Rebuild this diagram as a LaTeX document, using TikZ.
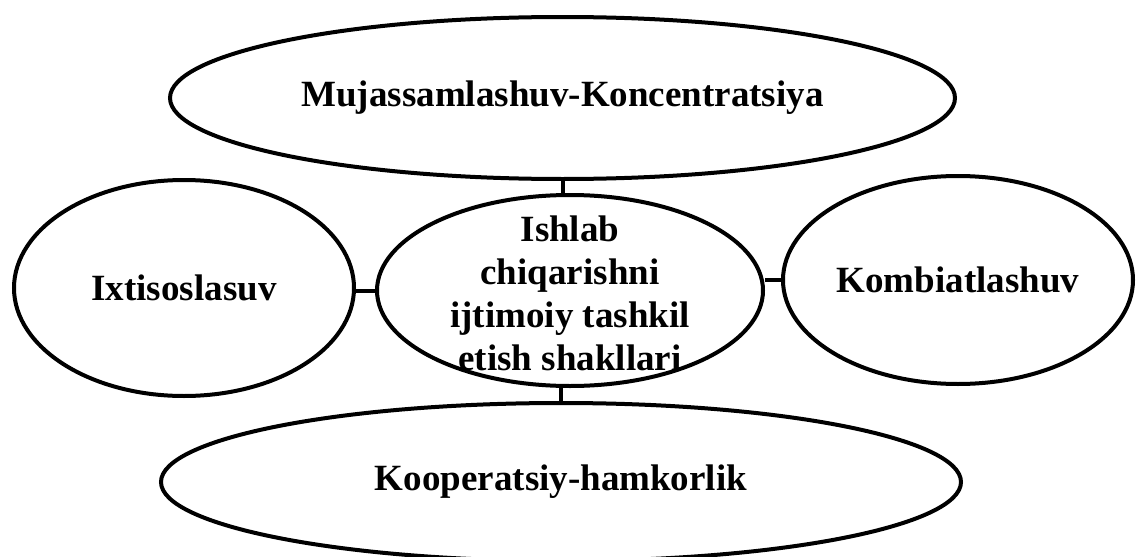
\documentclass[tikz,border=0pt]{standalone}
\usepackage{fontspec}
\setmainfont{Liberation Serif}
\usetikzlibrary{shapes.geometric}

\tikzset{
	words/.style = {
		inner sep = 0pt,
		font = \fontsize{18.5}{21.5}\selectfont\bfseries,
		align = center,
	},
	form/.style = {
		words,
		draw,
		ellipse,
		line width = 2pt,
	},
	link/.style = {line width = 2pt},
}

\begin{document}
\begin{tikzpicture}[x=1pt, y=1pt]
	
	\useasboundingbox (0,0) rectangle (568,-278.5);
	
	\node[
		form,
		minimum width = 392.5pt,
		minimum height = 81pt,
		name = top,
	] at (281.25,-49) {Mujassamlashuv-Koncentratsiya};
	
	\node[
		form,
		minimum width = 170pt,
		minimum height = 108pt,
		name = left,
	] at (92,-144) {Ixtisoslasuv};
	
	% centre ellipse, text set apart so it can spill over the border
	\node[
		form,
		minimum width = 193pt,
		minimum height = 95.5pt,
		name = mid,
	] at (285,-145.25) {};
	
	\node[words, name = midtext]
		at ([yshift=-1.5pt]mid.center) {Ishlab\\chiqarishni\\ijtimoiy tashkil\\etish shakllari};
	
	\node[
		form,
		minimum width = 175pt,
		minimum height = 104pt,
		name = right,
	] at (479,-140) {Kombiatlashuv};
	
	\node[
		form,
		minimum width = 400pt,
		minimum height = 79pt,
		name = bottom,
	] at (280.5,-241) {Kooperatsiy-hamkorlik};
	
	\draw[link] (top.south) -- (top.south |- mid.north);
	\draw[link] (bottom.north) -- (bottom.north |- mid.south);
	\draw[link] (mid.west) -- (mid.west -| left.east);
	\draw[link] (right.west) -- (right.west -| mid.east);
		
\end{tikzpicture}
\end{document}
